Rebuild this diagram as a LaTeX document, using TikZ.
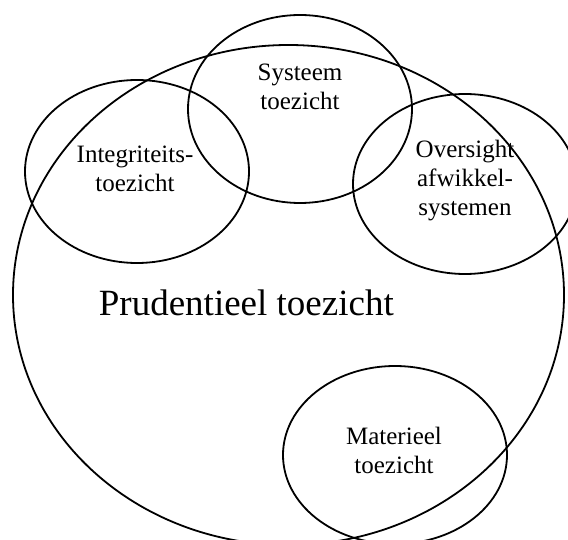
\documentclass[tikz,border=0pt]{standalone}
\usepackage{fontspec}
\setmainfont{Liberation Serif}

\begin{document}
\begin{tikzpicture}[x=1pt, y=-1pt, line width=1.8pt,
    tekst/.style={align=center, inner sep=0pt, font=\fontsize{25}{29}\selectfont},
    groot/.style={inner sep=0pt, font=\fontsize{37}{41}\selectfont}]
    \useasboundingbox (0,0) rectangle (568,540);
    \fill[white] (0,0) rectangle (568,540);
    \clip (0,0) rectangle (568,540);
    \draw (288.5,295) ellipse [x radius=275.5pt, y radius=250pt];
    \draw (137,171.5) ellipse [x radius=112pt, y radius=91.5pt];
    \draw (300,109) ellipse [x radius=112pt, y radius=94pt];
    \draw (465,184) ellipse [x radius=112pt, y radius=90pt];
    \draw (395,455) ellipse [x radius=112pt, y radius=89pt];
    \node[tekst] (integriteit) at (135,169) {Integriteits-\\toezicht};
    \node[tekst] (systeem) at (300,87) {Systeem\\toezicht};
    \node[tekst] (oversight) at (465,181) {Oversight\\afwikkel-\\systemen};
    \node[tekst] (materieel) at (394,450) {Materieel\\toezicht};
    \node[groot, anchor=base west] (prudentieel) at (98,316) {Prudentieel toezicht};
\end{tikzpicture}
\end{document}
